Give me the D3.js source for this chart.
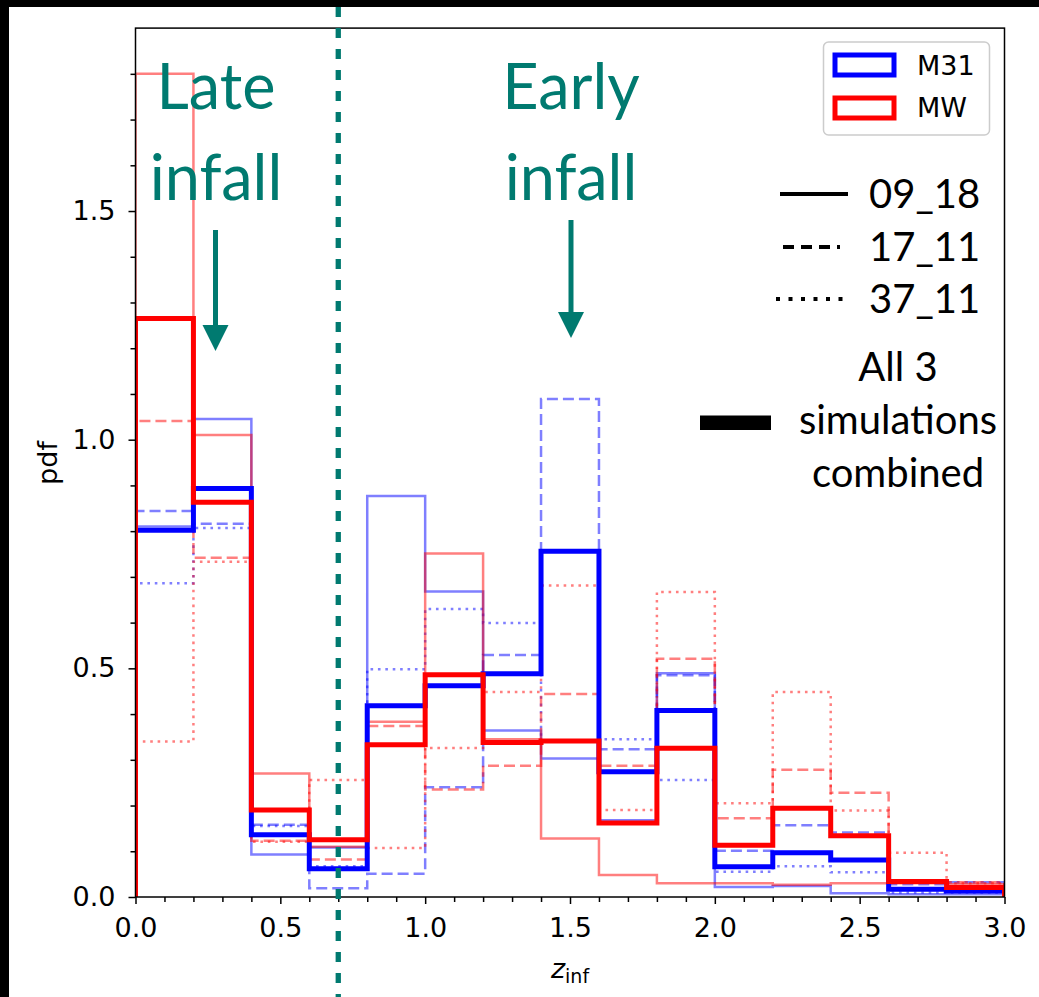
<!DOCTYPE html>
<html><head><meta charset="utf-8">
<script src="https://cdn.jsdelivr.net/npm/d3@7"></script>
<style>body{margin:0;background:#000;} svg{display:block;}</style>
</head><body>
<svg id="chart" width="1039" height="997"></svg>
<script>
// ---- data ----
const binEdges = [0,0.2,0.4,0.6,0.8,1.0,1.2,1.4,1.6,1.8,2.0,2.2,2.4,2.6,2.8,3.0];
const m31Combined = [0.802,0.893,0.136,0.062,0.418,0.462,0.488,0.756,0.274,0.408,0.066,0.097,0.081,0.017,0.013];
const mwCombined  = [1.265,0.863,0.190,0.125,0.333,0.486,0.338,0.341,0.162,0.325,0.113,0.194,0.134,0.034,0.021];
const m31_0918 = [0.810,1.045,0.093,0.108,0.877,0.668,0.364,0.303,0.168,0.489,0.022,0.024,0.008,0.006,0.006];
const m31_1711 = [0.844,0.816,0.158,0.019,0.051,0.240,0.529,1.089,0.323,0.485,0.101,0.157,0.141,0.028,0.032];
const m31_3711 = [0.686,0.807,0.155,0.067,0.498,0.630,0.599,0.340,0.345,0.256,0.055,0.067,0.054,0.010,0.010];
const mw_0918  = [1.800,1.010,0.270,0.110,0.383,0.751,0.345,0.128,0.048,0.030,0.030,0.027,0.030,0.030,0.028];
const mw_1711  = [1.041,0.742,0.123,0.082,0.374,0.235,0.287,0.444,0.287,0.521,0.172,0.278,0.228,0.032,0.032];
const mw_3711  = [0.340,0.733,0.121,0.256,0.107,0.326,0.448,0.681,0.190,0.667,0.205,0.448,0.189,0.097,0.030];
const xTicks = [0,0.5,1.0,1.5,2.0,2.5,3.0];
const yTicks = [0,0.5,1.0,1.5];
const simLabels = ["09_18","17_11","37_11"];
const hostLabels = ["M31","MW"];
const separatorZ = 0.7;

// ---- layout ----
const svg = d3.select("#chart");
const L=135.5, R=1004.5, T=28.1, B=897;
const x = d3.scaleLinear().domain([0,3]).range([L,R]);
const y = d3.scaleLinear().domain([0,1.9]).range([B,T]);
const TEAL = "#007a70";
const DV = "DejaVu Sans";
const AV = "Lato";

svg.append("rect").attr("width",1039).attr("height",997).attr("fill","#000");
svg.append("rect").attr("x",9).attr("y",7).attr("width",1030).attr("height",990).attr("fill","#fff");

svg.append("defs").append("clipPath").attr("id","clip")
  .append("rect").attr("x",L).attr("y",T).attr("width",R-L).attr("height",B-T);

function stepPts(vals){
  const pts=[[binEdges[0],0]];
  vals.forEach((v,i)=>{pts.push([binEdges[i],v]);pts.push([binEdges[i+1],v]);});
  pts.push([binEdges[binEdges.length-1],0]);
  return pts;
}
const line = d3.line().x(d=>x(d[0])).y(d=>y(d[1]));
const g = svg.append("g").attr("clip-path","url(#clip)");

const thin = [
  {v:m31_0918,c:"#0000ff",dash:null},
  {v:m31_1711,c:"#0000ff",dash:"11,5"},
  {v:m31_3711,c:"#0000ff",dash:"2.6,4.8"},
  {v:mw_0918,c:"#ff0000",dash:null},
  {v:mw_1711,c:"#ff0000",dash:"11,5"},
  {v:mw_3711,c:"#ff0000",dash:"2.6,4.8"}
];
thin.forEach(s=>{
  g.append("path").attr("d",line(stepPts(s.v))).attr("fill","none")
   .attr("stroke",s.c).attr("stroke-opacity",0.5).attr("stroke-width",2.5)
   .attr("stroke-dasharray",s.dash);
});
[{v:m31Combined,c:"#0000ff"},{v:mwCombined,c:"#ff0000"}].forEach(s=>{
  g.append("path").attr("d",line(stepPts(s.v))).attr("fill","none")
   .attr("stroke",s.c).attr("stroke-width",5).attr("stroke-linejoin","miter");
});

// axes
function styleAxis(sel){
  sel.select(".domain").remove();
  sel.selectAll("line").attr("stroke","#000").attr("stroke-width",1.5);
  sel.selectAll("text").attr("font-family",DV).attr("font-size",27).attr("fill","#000");
}
const minorX = d3.range(0,31).map(i=>i/10).filter(v=>Math.abs(v*2-Math.round(v*2))>1e-6);
const minorY = d3.range(0,19).map(i=>i/10).filter(v=>Math.abs(v*2-Math.round(v*2))>1e-6);
svg.append("g").attr("transform",`translate(0,${B})`)
  .call(d3.axisBottom(x).tickValues(minorX).tickSize(5).tickFormat("")).call(styleAxis);
svg.append("g").attr("transform",`translate(0,${B})`)
  .call(d3.axisBottom(x).tickValues(xTicks).tickSize(7).tickPadding(14).tickFormat(d3.format(".1f"))).call(styleAxis);
svg.append("g").attr("transform",`translate(${L},0)`)
  .call(d3.axisLeft(y).tickValues(minorY).tickSize(5).tickFormat("")).call(styleAxis);
svg.append("g").attr("transform",`translate(${L},0)`)
  .call(d3.axisLeft(y).tickValues(yTicks).tickSize(7).tickPadding(13).tickFormat(d3.format(".1f"))).call(styleAxis);

svg.append("rect").attr("x",L).attr("y",T).attr("width",R-L).attr("height",B-T)
  .attr("fill","none").attr("stroke","#000").attr("stroke-width",1.5);

// axis labels
svg.append("text").attr("transform","translate(57,463) rotate(-90)").attr("text-anchor","middle")
  .attr("font-family",DV).attr("font-size",27).text("pdf");
const xl = svg.append("text").attr("x",570).attr("y",978).attr("text-anchor","middle")
  .attr("font-family",DV).attr("font-size",27);
xl.append("tspan").attr("font-style","italic").text("z");
xl.append("tspan").attr("font-size",19).attr("dy",5).text("inf");

// legend 1
const lg = svg.append("g");
lg.append("rect").attr("x",823.5).attr("y",42).attr("width",166).attr("height",93).attr("rx",5)
  .attr("fill","#fff").attr("fill-opacity",0.8).attr("stroke","#cccccc").attr("stroke-width",1.5);
[["#0000ff",hostLabels[0],53,75],["#ff0000",hostLabels[1],96,117]].forEach(([c,t,ry,by])=>{
  lg.append("rect").attr("x",835).attr("y",ry+2).attr("width",59).attr("height",20)
    .attr("fill","none").attr("stroke",c).attr("stroke-width",5);
  lg.append("text").attr("x",917).attr("y",by).attr("font-family",DV).attr("font-size",27).text(t);
});

// legend 2 (simulations)
const dashes=[null,"11,7","4,8.5"];
const lys=[194,247,299];
const lx=[[780,848],[783,840],[776,845]];
simLabels.forEach((t,i)=>{
  svg.append("line").attr("x1",lx[i][0]).attr("x2",lx[i][1]).attr("y1",lys[i]).attr("y2",lys[i])
    .attr("stroke","#000").attr("stroke-width",4).attr("stroke-dasharray",dashes[i]);
  svg.append("text").attr("x",869).attr("y",lys[i]+14).attr("font-family",AV).attr("font-size",40).text(t);
});
svg.append("rect").attr("x",700).attr("y",415.5).attr("width",71).attr("height",14.5).attr("fill","#000");
[["All 3",381],["simulations",434],["combined",487]].forEach(([t,by])=>{
  svg.append("text").attr("x",898).attr("y",by).attr("text-anchor","middle")
    .attr("font-family",AV).attr("font-size",40).text(t);
});

// annotations
[["Late",216,109],["infall",216,200],["Early",571,109],["infall",571,200]].forEach(([t,cx,by])=>{
  svg.append("text").attr("x",cx).attr("y",by).attr("text-anchor","middle")
    .attr("font-family",AV).attr("font-size",63).attr("fill",TEAL).text(t);
});
function arrow(cx,y0,y1){
  svg.append("line").attr("x1",cx).attr("x2",cx).attr("y1",y0).attr("y2",y1-20)
    .attr("stroke",TEAL).attr("stroke-width",5);
  svg.append("path").attr("d",`M${cx-13},${y1-26}L${cx+13},${y1-26}L${cx},${y1}Z`).attr("fill",TEAL);
}
arrow(215.5,230,351);
arrow(571,220,338);

// separator line
svg.append("line").attr("x1",x(separatorZ)).attr("x2",x(separatorZ)).attr("y1",7).attr("y2",997)
  .attr("stroke",TEAL).attr("stroke-width",5.3).attr("stroke-dasharray","10,11");
</script>
</body></html>
